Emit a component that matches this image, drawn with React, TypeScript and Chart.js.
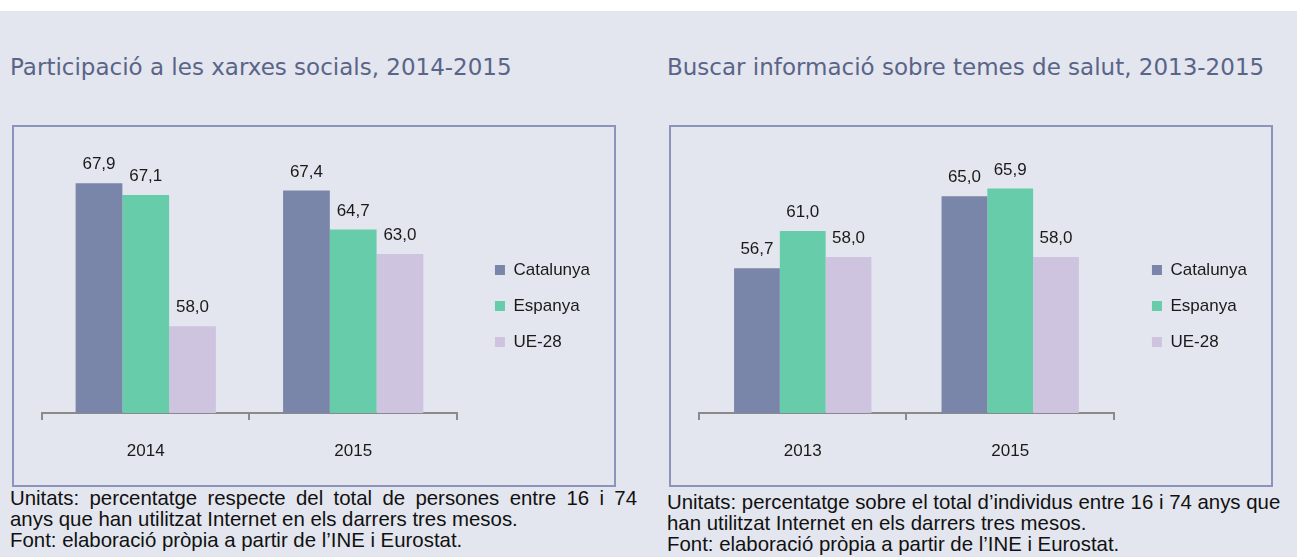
import React, { useEffect, useRef } from "react";
import { Chart, registerables } from "chart.js";

Chart.register(...registerables);

const seriesNames = ["Catalunya", "Espanya", "UE-28"];
const seriesColors = ["#7A86A9", "#66CCA9", "#CEC4DF"];

const xarxesYears = ["2014", "2015"];
const xarxesCatalunya = [67.9, 67.4];
const xarxesEspanya = [67.1, 64.7];
const xarxesUE28 = [58.0, 63.0];
const xarxesMin = 52;
const xarxesMax = 70;

const salutYears = ["2013", "2015"];
const salutCatalunya = [56.7, 65.0];
const salutEspanya = [61.0, 65.9];
const salutUE28 = [58.0, 58.0];
const salutMin = 40;
const salutMax = 70;

const FONT = "'Liberation Sans', Arial, sans-serif";
const TITLE_FONT = "'DejaVu Sans', sans-serif";

const valueLabels = {
  id: "valueLabels",
  afterDatasetsDraw(chart: any) {
    const ctx = chart.ctx;
    ctx.save();
    ctx.font = `17px ${FONT}`;
    ctx.fillStyle = "#1a1a1a";
    ctx.textAlign = "center";
    ctx.textBaseline = "alphabetic";
    chart.data.datasets.forEach((ds: any, i: number) => {
      const meta = chart.getDatasetMeta(i);
      meta.data.forEach((el: any, j: number) => {
        const v = ds.data[j] as number;
        ctx.fillText(v.toFixed(1).replace(".", ","), el.x, el.y - 14);
      });
    });
    ctx.restore();
  },
};

function BarPanel(props: {
  labels: string[];
  series: number[][];
  min: number;
  max: number;
  catPct: number;
}) {
  const ref = useRef<HTMLCanvasElement>(null);
  useEffect(() => {
    if (!ref.current) return;
    const chart = new Chart(ref.current, {
      type: "bar",
      data: {
        labels: props.labels,
        datasets: props.series.map((d, i) => ({
          label: seriesNames[i],
          data: d,
          backgroundColor: seriesColors[i],
          borderWidth: 0,
          barPercentage: 1,
          categoryPercentage: props.catPct,
        })),
      },
      options: {
        animation: false,
        responsive: false,
        events: [],
        layout: { padding: { left: 28, right: 14, top: 26, bottom: 26 } },
        plugins: {
          tooltip: { enabled: false },
          title: { display: false },
          legend: {
            display: true,
            position: "right",
            align: "center",
            labels: {
              boxWidth: 10,
              boxHeight: 10,
              padding: 19,
              color: "#1a1a1a",
              font: { family: FONT, size: 17 },
            },
          },
        },
        scales: {
          x: {
            offset: true,
            grid: {
              display: true,
              offset: true,
              drawOnChartArea: false,
              drawTicks: true,
              tickLength: 7,
              color: "#8A8A8A",
              lineWidth: 2,
            },
            border: { display: true, color: "#8A8A8A", width: 2 },
            ticks: {
              color: "#1a1a1a",
              padding: 21,
              font: { family: FONT, size: 17 },
            },
            afterFit: (s: any) => {
              s.height = 46;
            },
          },
          y: {
            position: "right",
            min: props.min,
            max: props.max,
            display: true,
            grid: { display: false },
            border: { display: false },
            ticks: { display: false },
            afterFit: (s: any) => {
              s.width = 19;
            },
          },
        },
      },
      plugins: [valueLabels],
    });
    return () => chart.destroy();
  }, []);
  return <canvas ref={ref} width={600} height={358} style={{ display: "block" }} />;
}

const boxStyle = (left: number): React.CSSProperties => ({
  position: "absolute",
  left,
  top: 125,
  width: 600,
  height: 358,
  border: "2px solid #8C94BC",
});

const titleStyle = (left: number): React.CSSProperties => ({
  position: "absolute",
  left,
  top: 52,
  fontFamily: TITLE_FONT,
  fontSize: 23,
  color: "#5A6488",
  whiteSpace: "nowrap",
  lineHeight: "30px",
});

const capLine = (left: number, top: number, width?: number, justify?: boolean): React.CSSProperties =>
  ({
    position: "absolute",
    left,
    top,
    width,
    fontFamily: FONT,
    fontSize: 20.4,
    lineHeight: "21px",
    color: "#111",
    whiteSpace: "nowrap",
    textAlign: justify ? "justify" : "left",
    textAlignLast: justify ? "justify" : "left",
  } as React.CSSProperties);

export default function App() {
  return (
    <div
      style={{
        position: "absolute",
        left: 0,
        top: 0,
        width: 1297,
        height: 557,
        background: "#E3E6EE",
        overflow: "hidden",
      }}
    >
      <div style={{ position: "absolute", left: 0, top: 0, width: 1297, height: 11, background: "#FFFFFF" }} />
      <div style={titleStyle(10)}>Participació a les xarxes socials, 2014-2015</div>
      <div style={titleStyle(667)}>Buscar informació sobre temes de salut, 2013-2015</div>
      <div style={boxStyle(12)}>
        <BarPanel
          labels={xarxesYears}
          series={[xarxesCatalunya, xarxesEspanya, xarxesUE28]}
          min={xarxesMin}
          max={xarxesMax}
          catPct={0.676}
        />
      </div>
      <div style={boxStyle(669)}>
        <BarPanel
          labels={salutYears}
          series={[salutCatalunya, salutEspanya, salutUE28]}
          min={salutMin}
          max={salutMax}
          catPct={0.662}
        />
      </div>
      <div style={capLine(10, 488, 627, true)}>
        Unitats: percentatge respecte del total de persones entre 16 i 74
      </div>
      <div style={capLine(10, 509)}>anys que han utilitzat Internet en els darrers tres mesos.</div>
      <div style={capLine(10, 530)}>Font: elaboració pròpia a partir de l’INE i Eurostat.</div>
      <div style={capLine(667, 492)}>
        Unitats: percentatge sobre el total d’individus entre 16 i 74 anys que
      </div>
      <div style={capLine(667, 513)}>han utilitzat Internet en els darrers tres mesos.</div>
      <div style={capLine(667, 534)}>Font: elaboració pròpia a partir de l’INE i Eurostat.</div>
    </div>
  );
}
